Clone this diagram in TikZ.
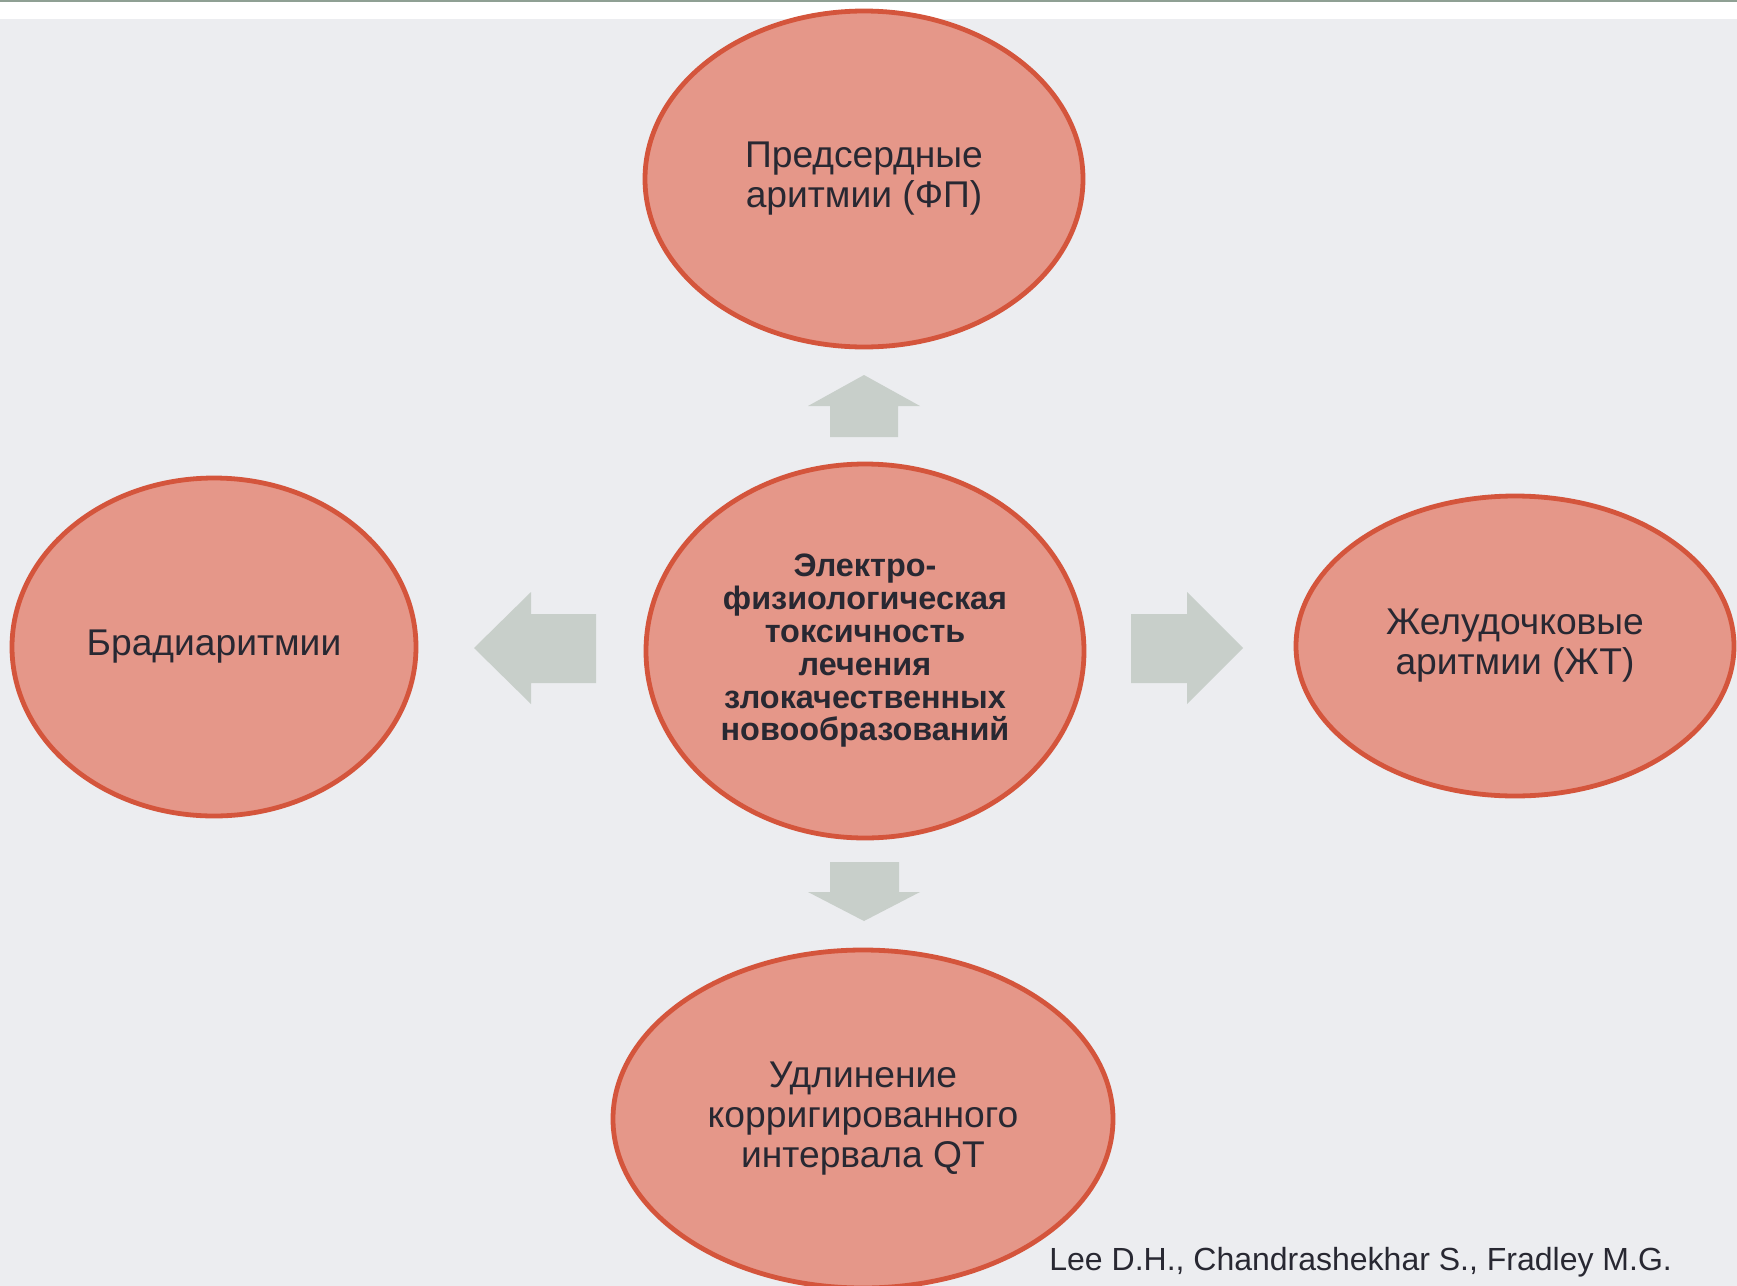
\documentclass[tikz,border=0pt]{standalone}
\usepackage{fontspec}
\setmainfont{Liberation Sans}
\usepackage{tikz}
\usetikzlibrary{shapes,positioning}
\definecolor{bgpanel}{RGB}{236,237,240}
\definecolor{topline}{RGB}{143,160,148}
\definecolor{ovalfill}{RGB}{229,151,137}
\definecolor{ovalline}{RGB}{212,85,60}
\definecolor{arrowgrey}{RGB}{200,207,202}
\definecolor{inktext}{RGB}{40,40,50}
\tikzstyle{oval} = [ellipse, draw=ovalline, fill=ovalfill, line width=2.4pt, inner sep=0pt, align=center, text=inktext, font=\fontsize{18.6}{20}\selectfont]
\tikzstyle{blockarrow} = [fill=arrowgrey, draw=none]

\begin{document}
\begin{tikzpicture}[x=0.5pt, y=-0.5pt]
\useasboundingbox (0,0) rectangle (1737,1286);
% background panel
\fill[white] (0,0) rectangle (1737,1286);
\fill[bgpanel] (0,19) rectangle (1737,1286);
\fill[topline] (0,0) rectangle (1737,2);

% ovals
\node[oval, minimum width=219pt, minimum height=168pt] (atrial) at (864,179) {Предсердные\\аритмии (ФП)};
\node[oval, minimum width=219pt, minimum height=187pt, font=\bfseries\fontsize{16.2}{16.4}\selectfont] (toxic) at (865,651) {Электро-\\физиологическая\\токсичность\\лечения\\злокачественных\\новообразований};
\node[oval, minimum width=202pt, minimum height=169pt] (brady) at (214,647) {Брадиаритмии};
\node[oval, minimum width=219pt, minimum height=150pt] (ventr) at (1515,646) {Желудочковые\\аритмии (ЖТ)};
\node[oval, minimum width=250pt, minimum height=169pt] (qt) at (863,1119) {Удлинение\\корригированного\\интервала QT};

% block arrows
\fill[blockarrow] (864,375) -- (920,406) -- (898,406) -- (898,437) -- (830,437) -- (830,406) -- (808,406) -- cycle;
\fill[blockarrow] (830,862) -- (899,862) -- (899,892) -- (920,892) -- (864,921) -- (808,892) -- (830,892) -- cycle;
\fill[blockarrow] (474,648) -- (531,592) -- (531,614) -- (596,614) -- (596,683) -- (531,683) -- (531,704) -- cycle;
\fill[blockarrow] (1131,614) -- (1187,614) -- (1187,592) -- (1243,648) -- (1187,704) -- (1187,683) -- (1131,683) -- cycle;

% source
\node[anchor=base west, inner sep=0pt, text=inktext, font=\fontsize{16}{18}\selectfont] (source) at (1049,1270) {Lee D.H., Chandrashekhar S., Fradley M.G.};
\end{tikzpicture}
\end{document}
